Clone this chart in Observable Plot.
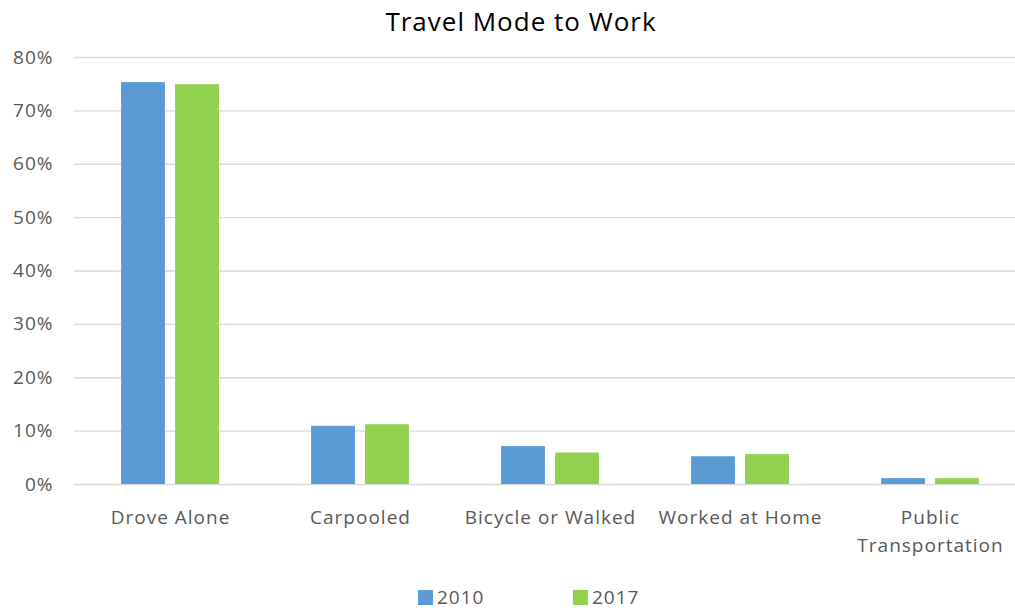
<!DOCTYPE html>
<html>
<head>
<meta charset="utf-8">
<script src="https://cdn.jsdelivr.net/npm/d3@7"></script>
<script src="https://cdn.jsdelivr.net/npm/@observablehq/plot@0.6"></script>
<style>
  html, body { margin: 0; padding: 0; background: #fff; }
  #wrap { position: relative; width: 1015px; height: 610px; overflow: hidden; font-family: "Open Sans", sans-serif; }
  #title { position: absolute; top: 3px; left: 0; width: 1042px; text-align: center; font-size: 26px; letter-spacing: 1px; color: #000; }
  #chart { position: absolute; top: 0; left: 0; }
  #legend { position: absolute; top: 584px; left: 0; width: 1015px; font-size: 19px; letter-spacing: 1px; color: #595959; }
  .item { position: absolute; display: flex; align-items: center; }
  .sw { width: 15px; height: 15px; margin-right: 4px; }
  #chart svg text { letter-spacing: 1px; }
</style>
</head>
<body>
<div id="wrap">
  <div id="chart"></div>
  <div id="title">Travel Mode to Work</div>
  <div id="legend"></div>
</div>
<script>
const categories = ["Drove Alone", "Carpooled", "Bicycle or Walked", "Worked at Home", "Public\nTransportation"];
const years = ["2010", "2017"];
const values2010 = [0.753, 0.109, 0.071, 0.052, 0.011];
const values2017 = [0.749, 0.112, 0.059, 0.056, 0.011];
const colors = ["#5B9BD5", "#92D050"];
const yTicks = [0, 0.1, 0.2, 0.3, 0.4, 0.5, 0.6, 0.7, 0.8];

const data = [];
categories.forEach((c, i) => {
  data.push({category: c, year: years[0], value: values2010[i]});
  data.push({category: c, year: years[1], value: values2017[i]});
});

const W = 1015, H = 570;
const band = (1025 - 74) / categories.length;
const barW = 44;
const inset = (band - barW) / 2;

const plot = Plot.plot({
  width: W,
  height: H,
  marginTop: 57,
  marginBottom: 86,
  marginLeft: 74,
  marginRight: 0,
  style: {fontFamily: "Open Sans, sans-serif", fontSize: "19px", color: "#595959", background: "#fff", overflow: "visible"},
  x: {domain: categories, range: [74, 1025], padding: 0},
  y: {domain: [0, 0.8], ticks: yTicks},
  color: {domain: years, range: colors},
  marks: [
    Plot.ruleY(yTicks, {stroke: "#d9d9d9", strokeWidth: 1.3}),
    Plot.barY(data.filter(d => d.year === years[0]), {x: "category", y: "value", fill: colors[0], insetLeft: inset, insetRight: inset, dx: -27}),
    Plot.barY(data.filter(d => d.year === years[1]), {x: "category", y: "value", fill: colors[1], insetLeft: inset, insetRight: inset, dx: 27}),
    Plot.axisY({ticks: yTicks, tickFormat: d3.format(".0%"), tickSize: 0, tickPadding: 21, fill: "#595959", fontSize: 19, label: null}),
    Plot.axisX({tickSize: 0, tickPadding: 20, fill: "#595959", fontSize: 19, lineHeight: 1.47, label: null})
  ]
});
document.getElementById("chart").appendChild(plot);

const legend = document.getElementById("legend");
const legendX = [418, 573];
years.forEach((y, i) => {
  const it = document.createElement("div");
  it.className = "item";
  it.style.left = legendX[i] + "px";
  it.innerHTML = `<span class="sw" style="background:${colors[i]}"></span><span>${y}</span>`;
  legend.appendChild(it);
});
</script>
</body>
</html>
